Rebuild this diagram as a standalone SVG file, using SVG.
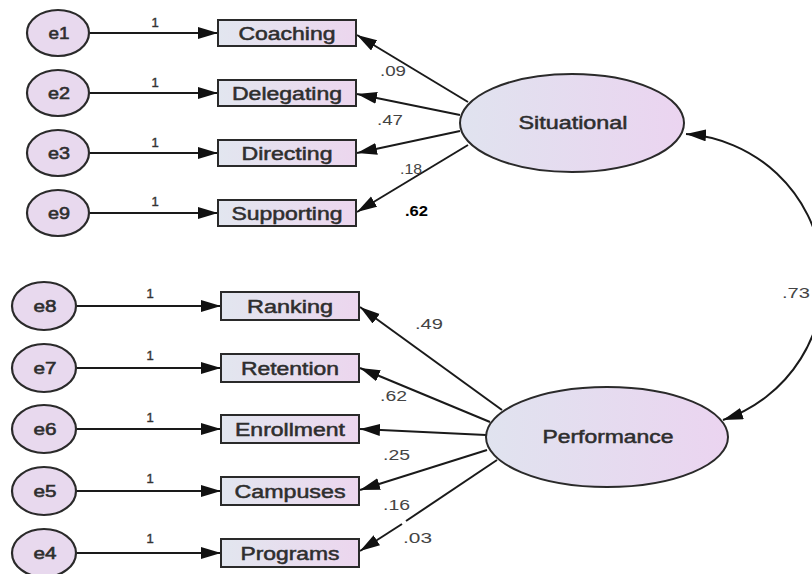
<svg xmlns="http://www.w3.org/2000/svg" width="812" height="574" viewBox="0 0 812 574">
<defs>
<linearGradient id="gBox" x1="0" y1="0" x2="1" y2="0"><stop offset="0" stop-color="#e2e6ef"/><stop offset="1" stop-color="#ecd6ee"/></linearGradient>
<linearGradient id="gEll" x1="0" y1="0" x2="1" y2="0"><stop offset="0" stop-color="#e0e3ef"/><stop offset="1" stop-color="#ebd4f0"/></linearGradient>
<marker id="ah" markerUnits="userSpaceOnUse" markerWidth="22" markerHeight="14" refX="20" refY="6" orient="auto-start-reverse"><path d="M0,0 L20,6 L0,12 z" fill="#111"/></marker>
<style>
.box{fill:url(#gBox);stroke:#2a2a2a;stroke-width:2}
.lat{fill:url(#gEll);stroke:#2a2a2a;stroke-width:2}
.err{fill:#e8d9ee;stroke:#2a2a2a;stroke-width:2.2}
.t{font-family:"Liberation Sans",Arial,sans-serif;font-size:18px;fill:#2e2e2e;stroke:#2e2e2e;stroke-width:0.5;text-anchor:middle}
.te{font-family:"Liberation Sans",Arial,sans-serif;font-size:17px;fill:#2e2e2e;stroke:#2e2e2e;stroke-width:0.6;text-anchor:middle}
.n{font-family:"Liberation Sans",Arial,sans-serif;font-size:14px;fill:#444}
.one{font-family:"Liberation Sans",Arial,sans-serif;font-size:13px;fill:#333;stroke:#333;stroke-width:0.4;text-anchor:middle}
.c{fill:none;stroke:#1a1a1a;stroke-width:2;marker-end:url(#ah)}
.cl{fill:none;stroke:#1a1a1a;stroke-width:2}
</style>
</defs>
<g id="connectors">
<line class="c" x1="90" y1="33" x2="218" y2="33"/>
<line class="c" x1="90" y1="93" x2="218" y2="93"/>
<line class="c" x1="90" y1="153" x2="218" y2="153"/>
<line class="c" x1="90" y1="213" x2="218" y2="213"/>
<line class="c" x1="77" y1="306" x2="221" y2="306"/>
<line class="c" x1="77" y1="368" x2="221" y2="368"/>
<line class="c" x1="77" y1="429" x2="221" y2="429"/>
<line class="c" x1="77" y1="491" x2="221" y2="491"/>
<line class="c" x1="77" y1="553" x2="221" y2="553"/>
<line class="c" x1="468" y1="102" x2="357" y2="35"/>
<line class="c" x1="460" y1="115" x2="357" y2="94"/>
<line class="c" x1="460" y1="131" x2="357" y2="153"/>
<line class="c" x1="468" y1="145" x2="357" y2="212"/>
<line class="c" x1="502" y1="410" x2="360" y2="307"/>
<line class="c" x1="490" y1="422" x2="360" y2="368"/>
<line class="c" x1="486" y1="435" x2="360" y2="429"/>
<line class="c" x1="487" y1="450" x2="360" y2="490"/>
<line class="cl" x1="497" y1="460" x2="406" y2="521"/>
<line class="c" x1="402" y1="524" x2="360" y2="551"/>
<path class="c" style="marker-start:url(#ah)" d="M686,134 A147,147 0 0 1 723,420"/>
</g>
<g id="labels">
<text class="one" x="155" y="27">1</text>
<text class="one" x="155" y="87">1</text>
<text class="one" x="155" y="147">1</text>
<text class="one" x="155" y="206">1</text>
<text class="one" x="150" y="298">1</text>
<text class="one" x="150" y="360">1</text>
<text class="one" x="150" y="422">1</text>
<text class="one" x="150" y="483">1</text>
<text class="one" x="150" y="543">1</text>
<text class="n" x="380" y="76" textLength="26" lengthAdjust="spacingAndGlyphs">.09</text>
<text class="n" x="377" y="125" textLength="26" lengthAdjust="spacingAndGlyphs">.47</text>
<text class="n" x="400" y="174" textLength="22" lengthAdjust="spacingAndGlyphs">.18</text>
<text class="n" x="405" y="216" textLength="23" lengthAdjust="spacingAndGlyphs" style="fill:#000;font-weight:bold">.62</text>
<text class="n" x="415" y="329" textLength="28" lengthAdjust="spacingAndGlyphs">.49</text>
<text class="n" x="380" y="401" textLength="27" lengthAdjust="spacingAndGlyphs">.62</text>
<text class="n" x="383" y="460" textLength="27" lengthAdjust="spacingAndGlyphs">.25</text>
<text class="n" x="383" y="510" textLength="27" lengthAdjust="spacingAndGlyphs">.16</text>
<text class="n" x="403" y="543" textLength="29" lengthAdjust="spacingAndGlyphs">.03</text>
<text class="n" x="782" y="298" textLength="28" lengthAdjust="spacingAndGlyphs">.73</text>
</g>
<g id="e1"><ellipse class="err" cx="58" cy="33" rx="31" ry="23"/><text class="te" x="59" y="39" textLength="21" lengthAdjust="spacingAndGlyphs">e1</text></g>
<g id="e2"><ellipse class="err" cx="58" cy="93" rx="31" ry="23"/><text class="te" x="59" y="99" textLength="22" lengthAdjust="spacingAndGlyphs">e2</text></g>
<g id="e3"><ellipse class="err" cx="58" cy="153" rx="31" ry="23"/><text class="te" x="59" y="159" textLength="22" lengthAdjust="spacingAndGlyphs">e3</text></g>
<g id="e9"><ellipse class="err" cx="58" cy="213" rx="31" ry="23"/><text class="te" x="59" y="219" textLength="22" lengthAdjust="spacingAndGlyphs">e9</text></g>
<g id="e8"><ellipse class="err" cx="44" cy="306" rx="32" ry="24"/><text class="te" x="45" y="312" textLength="23" lengthAdjust="spacingAndGlyphs">e8</text></g>
<g id="e7"><ellipse class="err" cx="44" cy="368" rx="32" ry="24"/><text class="te" x="45" y="374" textLength="23" lengthAdjust="spacingAndGlyphs">e7</text></g>
<g id="e6"><ellipse class="err" cx="44" cy="429" rx="32" ry="24"/><text class="te" x="45" y="435" textLength="23" lengthAdjust="spacingAndGlyphs">e6</text></g>
<g id="e5"><ellipse class="err" cx="44" cy="491" rx="32" ry="24"/><text class="te" x="45" y="497" textLength="23" lengthAdjust="spacingAndGlyphs">e5</text></g>
<g id="e4"><ellipse class="err" cx="44" cy="553" rx="32" ry="24"/><text class="te" x="45" y="559" textLength="23" lengthAdjust="spacingAndGlyphs">e4</text></g>
<g id="Coaching"><rect class="box" x="218" y="20" width="138" height="26"/><text class="t" x="287" y="40" textLength="97" lengthAdjust="spacingAndGlyphs">Coaching</text></g>
<g id="Delegating"><rect class="box" x="218" y="80" width="138" height="26"/><text class="t" x="287" y="100" textLength="110" lengthAdjust="spacingAndGlyphs">Delegating</text></g>
<g id="Directing"><rect class="box" x="218" y="140" width="138" height="26"/><text class="t" x="287" y="160" textLength="91" lengthAdjust="spacingAndGlyphs">Directing</text></g>
<g id="Supporting"><rect class="box" x="218" y="200" width="138" height="26"/><text class="t" x="287" y="220" textLength="111" lengthAdjust="spacingAndGlyphs">Supporting</text></g>
<g id="Ranking"><rect class="box" x="221" y="292" width="138" height="28"/><text class="t" x="290" y="313" textLength="86" lengthAdjust="spacingAndGlyphs">Ranking</text></g>
<g id="Retention"><rect class="box" x="221" y="354" width="138" height="28"/><text class="t" x="290" y="375" textLength="98" lengthAdjust="spacingAndGlyphs">Retention</text></g>
<g id="Enrollment"><rect class="box" x="221" y="415" width="138" height="28"/><text class="t" x="290" y="436" textLength="110" lengthAdjust="spacingAndGlyphs">Enrollment</text></g>
<g id="Campuses"><rect class="box" x="221" y="477" width="138" height="28"/><text class="t" x="290" y="498" textLength="111" lengthAdjust="spacingAndGlyphs">Campuses</text></g>
<g id="Programs"><rect class="box" x="221" y="539" width="138" height="28"/><text class="t" x="290" y="560" textLength="99" lengthAdjust="spacingAndGlyphs">Programs</text></g>
<g id="Situational"><ellipse class="lat" cx="572" cy="123" rx="112" ry="49"/><text class="t" x="573" y="129" textLength="109" lengthAdjust="spacingAndGlyphs">Situational</text></g>
<g id="Performance"><ellipse class="lat" cx="607" cy="437" rx="121" ry="50"/><text class="t" x="608" y="443" textLength="131" lengthAdjust="spacingAndGlyphs">Performance</text></g>
</svg>
